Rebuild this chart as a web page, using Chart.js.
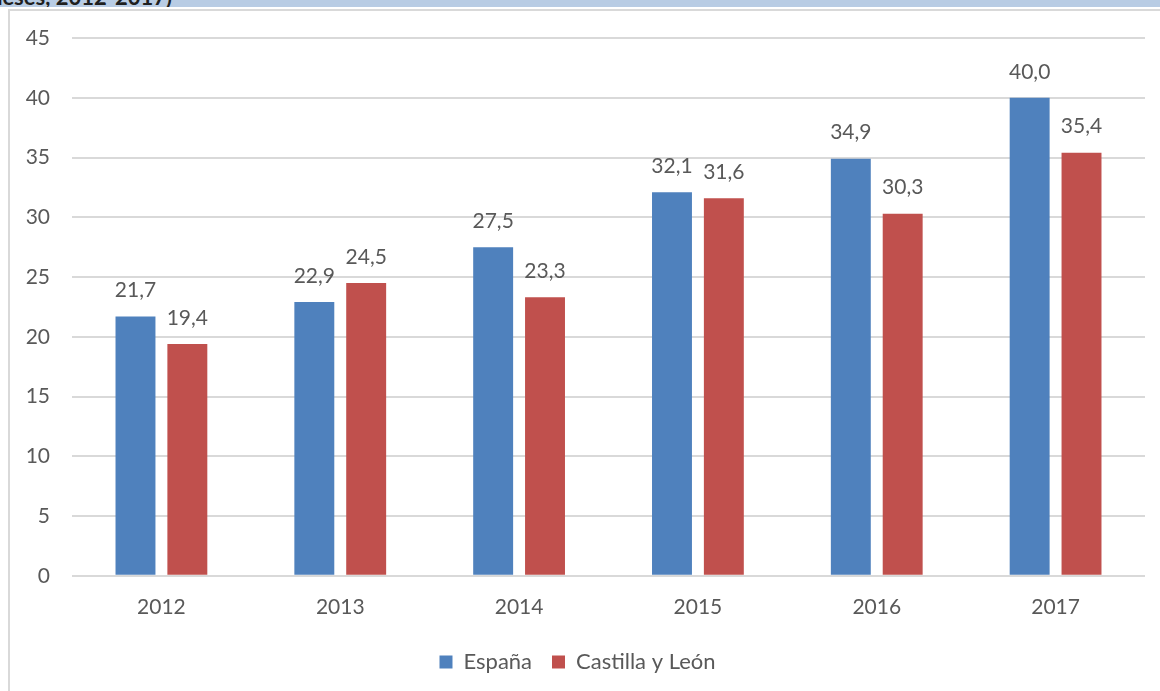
<!DOCTYPE html>
<html>
<head>
<meta charset="utf-8">
<script src="https://cdn.jsdelivr.net/npm/chart.js@4"></script>
<style>
  html, body { margin: 0; padding: 0; background: #fff; width: 1160px; height: 691px; overflow: hidden; }
  #band { position: absolute; left: 0; top: 0; width: 1160px; height: 7px; background: #b8cce4; overflow: hidden; }
  #band span { position: absolute; left: -22px; top: -17px; font: bold 22px Lato, sans-serif; color: #1f1f1f; white-space: nowrap; }
  #frame { position: absolute; left: 8px; top: 9px; width: 1152px; height: 682px; border-left: 2px solid #d9d9d9; border-top: 2px solid #d9d9d9; box-sizing: border-box; }
  #wrap { position: absolute; left: 10px; top: 11px; width: 1150px; height: 680px; }
</style>
</head>
<body>
<div id="band"><span>(meses, 2012-2017)</span></div>
<div id="frame"></div>
<div id="wrap"><canvas id="chart"></canvas></div>
<script>
/**************************************
 *              DADOS
 **************************************/
const years = ["2012", "2013", "2014", "2015", "2016", "2017"];
const espana = [21.7, 22.9, 27.5, 32.1, 34.9, 40.0];
const castillaLeon = [19.4, 24.5, 23.3, 31.6, 30.3, 35.4];
const seriesNames = ["España", "Castilla y León"];
const yMax = 45;
const yStep = 5;

const FONT = "Lato, 'Open Sans', sans-serif";
const GREY = "#595959";

/**************************************
 *     ETIQUETAS SOBRE AS BARRAS
 **************************************/
const barLabels = {
  id: "barLabels",
  afterDatasetsDraw(chart) {
    const ctx = chart.ctx;
    ctx.save();
    ctx.font = "21px " + FONT;
    ctx.fillStyle = GREY;
    ctx.textAlign = "center";
    ctx.textBaseline = "middle";
    chart.data.datasets.forEach((ds, i) => {
      chart.getDatasetMeta(i).data.forEach((bar, j) => {
        const txt = ds.data[j].toFixed(1).replace(".", ",");
        ctx.fillText(txt, bar.x, bar.y - 26);
      });
    });
    ctx.restore();
  }
};

/**************************************
 *              GRÁFICO
 **************************************/
new Chart(document.getElementById("chart"), {
  type: "bar",
  data: {
    labels: years,
    datasets: [
      { label: seriesNames[0], data: espana, backgroundColor: "#4f81bd" },
      { label: seriesNames[1], data: castillaLeon, backgroundColor: "#c0504d" }
    ]
  },
  options: {
    responsive: true,
    maintainAspectRatio: false,
    animation: false,
    categoryPercentage: 0.58,
    barPercentage: 0.77,
    layout: { padding: { top: 27, right: 15, bottom: 8, left: 0 } },
    plugins: {
      tooltip: { enabled: false },
      legend: {
        position: "bottom",
        labels: {
          font: { family: FONT, size: 22 },
          color: GREY,
          boxWidth: 13,
          boxHeight: 13,
          padding: 20
        }
      }
    },
    scales: {
      x: {
        grid: { display: false },
        border: { display: false },
        ticks: { font: { family: FONT, size: 21 }, color: GREY, padding: 11 }
      },
      y: {
        min: 0,
        max: yMax,
        // largura fixa e sem folga extra em cima
        afterFit: s => { s.width = 62; s.paddingTop = 0; s.paddingBottom = 0; },
        ticks: { stepSize: yStep, font: { family: FONT, size: 21 }, color: GREY, padding: 22 },
        grid: { color: "#d9d9d9", lineWidth: 2, drawTicks: false },
        border: { display: false }
      }
    }
  },
  plugins: [barLabels]
});
</script>
</body>
</html>
